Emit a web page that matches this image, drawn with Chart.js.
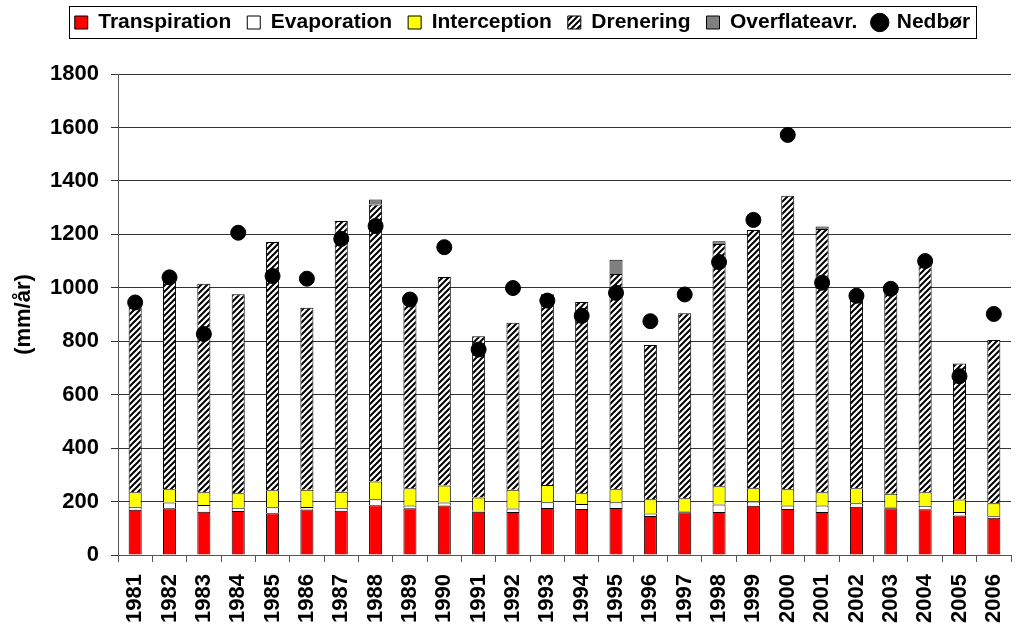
<!DOCTYPE html>
<html>
<head>
<meta charset="utf-8">
<script src="https://cdn.jsdelivr.net/npm/chart.js@4.4.1/dist/chart.umd.min.js"></script>
<style>
html,body{margin:0;padding:0;background:#fff;}
#wrap{width:1024px;height:629px;}
</style>
</head>
<body>
<div id="wrap"><canvas id="c" width="1024" height="629"></canvas></div>
<script>
const years = ['1981','1982','1983','1984','1985','1986','1987','1988','1989','1990','1991','1992','1993','1994','1995','1996','1997','1998','1999','2000','2001','2002','2003','2004','2005','2006'];
const transpiration = [169,175,162,165,156,170,166,186,175,185,162,161,176,172,176,146,160,161,184,172,161,181,175,171,148,139];
const evaporation   = [12,21,25,12,23,10,11,23,10,11,4,13,21,19,21,9,4,28,16,13,24,13,4,13,13,6];
const interception  = [54,50,48,54,63,64,60,66,65,64,49,70,65,40,49,54,48,68,50,61,50,56,50,51,47,49];
const drenering     = [705,784,780,745,929,681,1013,1037,710,780,604,625,714,716,806,577,693,907,966,1098,985,714,756,854,509,611];
const overflateavr  = [0,0,0,0,0,0,0,18,0,0,0,0,0,0,53,0,0,10,0,0,9,0,0,0,0,0];
const nedbor        = [945,1039,827,1206,1044,1034,1183,1231,956,1152,769,999,952,895,981,875,975,1096,1254,1572,1019,970,996,1100,669,902];
const yTicks = [0,200,400,600,800,1000,1200,1400,1600,1800];

function makeHatch(){
  const s = 6;
  const p = document.createElement('canvas');
  p.width = s; p.height = s;
  const g = p.getContext('2d');
  g.fillStyle = '#fff'; g.fillRect(0,0,s,s);
  g.strokeStyle = '#000'; g.lineWidth = 2;
  g.beginPath();
  g.moveTo(-1, s+1); g.lineTo(s+1, -1);
  g.moveTo(-1, 1); g.lineTo(1, -1);
  g.moveTo(s-1, s+1); g.lineTo(s+1, s-1);
  g.stroke();
  return document.getElementById('c').getContext('2d').createPattern(p, 'repeat');
}
const hatch = makeHatch();

const FONT = "'Liberation Sans', Arial, sans-serif";

const legendBorder = {
  id: 'legendBorder',
  beforeInit(chart){
    const lg = chart.legend;
    if (lg){
      const fit = lg.fit;
      lg.fit = function(){ fit.call(this); this.height = 68; };
    }
  },
  afterLayout(chart){
    const lg = chart.legend;
    if (!lg) return;
    lg.top -= 10; lg.bottom -= 10;
    lg.left += 14; lg.right += 14;
  },
  afterDraw(chart){
    const lg = chart.legend;
    if (!lg || !lg.legendHitBoxes || !lg.legendHitBoxes.length) return;
    const hb = lg.legendHitBoxes;
    let l = Infinity, r = -Infinity, t = Infinity, b = -Infinity;
    hb.forEach(h => { l = Math.min(l,h.left); r = Math.max(r,h.left+h.width); t = Math.min(t,h.top); b = Math.max(b,h.top+h.height); });
    const ctx = chart.ctx;
    ctx.save();
    ctx.strokeStyle = '#000'; ctx.lineWidth = 1;
    ctx.strokeRect(Math.round(l-6)+0.5, Math.round(t-6)+0.5, Math.round(r-l+12), Math.round(b-t+11));
    ctx.restore();
  }
};

const barCommon = { borderColor:'#000', borderWidth:1, categoryPercentage:1.0, barPercentage:0.38, pointStyle:'rect', order:1, stack:'s' };

new Chart(document.getElementById('c'), {
  type: 'bar',
  data: {
    labels: years,
    datasets: [
      Object.assign({ label:'Transpiration', data: transpiration, backgroundColor:'#FF0000' }, barCommon),
      Object.assign({ label:'Evaporation', data: evaporation, backgroundColor:'#FFFFFF' }, barCommon),
      Object.assign({ label:'Interception', data: interception, backgroundColor:'#FFFF00' }, barCommon),
      Object.assign({ label:'Drenering', data: drenering, backgroundColor: hatch }, barCommon),
      Object.assign({ label:'Overflateavr.', data: overflateavr, backgroundColor:'#808080' }, barCommon),
      { type:'line', label:'Nedbør', data: nedbor, showLine:false, pointRadius:7.5, pointHoverRadius:7.5,
        pointBackgroundColor:'#000', pointBorderColor:'#000', backgroundColor:'#000', borderColor:'#000',
        pointStyle:'circle', order:0, stack:'n' }
    ]
  },
  options: {
    responsive:false,
    animation:false,
    events:[],
    layout:{ padding:{ left:6, right:13, top:6, bottom:0 } },
    plugins:{
      tooltip:{enabled:false},
      legend:{
        display:true, position:'top',
        labels:{
          usePointStyle:true, boxWidth:13, boxHeight:13, padding:16,
          sort:(a,b) => a.datasetIndex - b.datasetIndex,
          color:'#000', font:{ family:FONT, size:21, weight:'bold' }
        }
      }
    },
    scales:{
      x:{
        stacked:true,
        offset:true,
        grid:{ display:true, offset:true, drawOnChartArea:false, drawTicks:true, tickLength:7, color:'#555', lineWidth:1 },
        border:{ display:true, color:'#555', width:1 },
        ticks:{ color:'#000', minRotation:90, maxRotation:90, padding:12, autoSkip:false, font:{ family:FONT, size:22, weight:'bold' } },
        afterFit(s){ s.height = 74; s.paddingLeft = 0; s.paddingRight = 0; }
      },
      y:{
        stacked:true,
        min:0, max:1800,
        afterBuildTicks(s){ s.ticks = yTicks.map(v => ({value:v})); },
        grid:{ color:'#333', lineWidth:1, tickLength:7, drawTicks:true },
        border:{ display:true, color:'#555', width:1 },
        ticks:{ color:'#000', padding:12, callback:(v) => String(v), font:{ family:FONT, size:22, weight:'bold' } },
        title:{ display:true, text:'(mm/år)', color:'#000', padding:{top:5,bottom:8}, font:{ family:FONT, size:22, weight:'bold' } },
        afterFit(s){ s.width = 112; }
      }
    }
  },
  plugins:[legendBorder]
});
</script>
</body>
</html>
